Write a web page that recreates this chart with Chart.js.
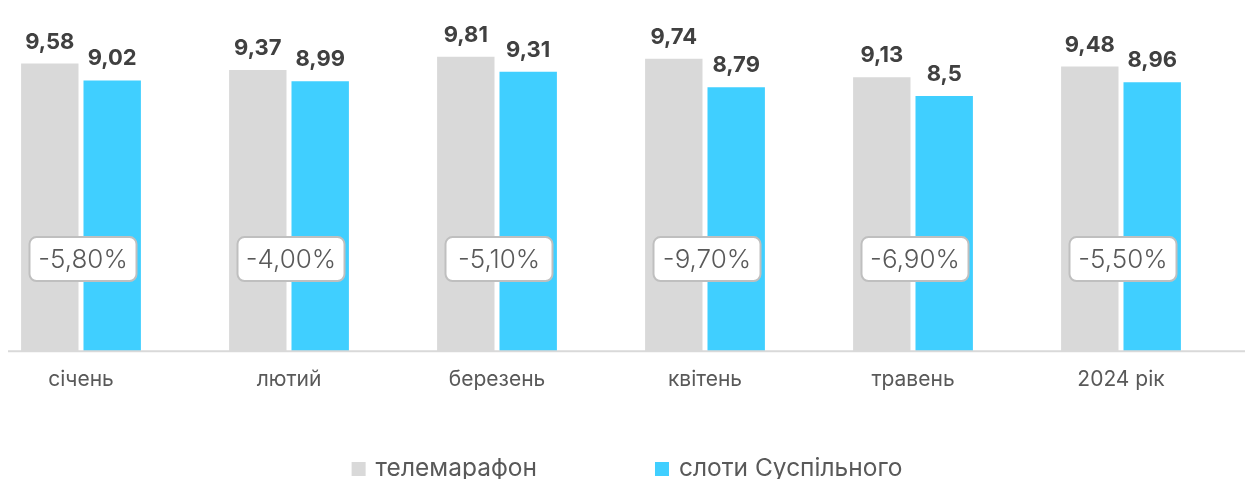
<!DOCTYPE html>
<html>
<head>
<meta charset="utf-8">
<script src="https://cdn.jsdelivr.net/npm/chart.js@4/dist/chart.umd.min.js"></script>
<style>
  html, body { margin: 0; padding: 0; background: #fff; overflow: hidden; }
  .wrap { position: absolute; left: -23px; top: 0; width: 1291px; height: 479px; }
</style>
</head>
<body>
<div class="wrap"><canvas id="chart" width="1291" height="479"></canvas></div>
<script>
// data
const categories = ["січень", "лютий", "березень", "квітень", "травень", "2024 рік"];
const telemarathon = [9.58, 9.37, 9.81, 9.74, 9.13, 9.48];
const slots = [9.02, 8.99, 9.31, 8.79, 8.5, 8.96];
const changeLabels = ["-5,80%", "-4,00%", "-5,10%", "-9,70%", "-6,90%", "-5,50%"];
const seriesNames = ["телемарафон", "слоти Суспільного"];

const grey = "#d9d9d9";
const blue = "#40cfff";
const textGrey = "#595959";
const shiftX = 23; // canvas sits 23px left of the page

Chart.defaults.font.family = "Inter, sans-serif";

// baseline, value labels and the change boxes
const decorPlugin = {
  id: "decor",
  afterDatasetsDraw(chart) {
    const ctx = chart.ctx;
    const x = chart.scales.x;
    const y = chart.scales.y;
    ctx.save();
    // axis line
    let y0 = y.getPixelForValue(0);
    ctx.strokeStyle = grey;
    ctx.lineWidth = 2;
    ctx.beginPath();
    ctx.moveTo(8 + shiftX, y0);
    ctx.lineTo(chart.width, y0);
    ctx.stroke();

    // values on top of bars
    ctx.font = "bold 22px Inter, sans-serif";
    ctx.fillStyle = "#404040";
    ctx.textAlign = "center";
    ctx.textBaseline = "alphabetic";
    chart.data.datasets.forEach((ds, di) => {
      chart.getDatasetMeta(di).data.forEach((bar, i) => {
        let txt = String(ds.data[i]).replace(".", ",");
        ctx.fillText(txt, bar.x, bar.y - 15);
      });
    });

    // change boxes
    ctx.font = "300 26px Inter, sans-serif";
    ctx.textBaseline = "middle";
    changeLabels.forEach((lab, i) => {
      let cx = x.getPixelForValue(i) + 2;
      let cy = y.getPixelForValue(3.07);
      let w = 107, h = 44;
      ctx.beginPath();
      ctx.roundRect(cx - w / 2, cy - h / 2, w, h, 7);
      ctx.fillStyle = "#ffffff";
      ctx.fill();
      ctx.strokeStyle = "#bfbfbf";
      ctx.lineWidth = 2;
      ctx.stroke();
      ctx.fillStyle = textGrey;
      ctx.fillText(lab, cx, cy + 1);
    });
    ctx.restore();
  },
  afterDraw(chart) {
    // legend at the bottom
    const ctx = chart.ctx;
    ctx.save();
    ctx.font = "24.5px Inter, sans-serif";
    ctx.textBaseline = "middle";
    ctx.textAlign = "left";
    const box = 14, gap = 10, spacing = 118;
    let widths = chart.data.datasets.map(d => ctx.measureText(d.label).width);
    let total = widths.reduce((a, b) => a + b, 0) + 2 * (box + gap) + spacing;
    let lx = 627 + shiftX - total / 2;
    let ly = 469;
    chart.data.datasets.forEach((d, i) => {
      ctx.fillStyle = d.backgroundColor;
      ctx.fillRect(lx, ly - box / 2, box, box);
      ctx.fillStyle = textGrey;
      ctx.fillText(d.label, lx + box + gap, ly);
      lx += box + gap + widths[i] + spacing;
    });
    ctx.restore();
  }
};

new Chart(document.getElementById("chart"), {
  type: "bar",
  data: {
    labels: categories,
    datasets: [
      { label: seriesNames[0], data: telemarathon, backgroundColor: grey },
      { label: seriesNames[1], data: slots, backgroundColor: blue }
    ]
  },
  options: {
    responsive: false,
    animation: false,
    devicePixelRatio: 1,
    categoryPercentage: 0.6,
    barPercentage: 0.92,
    layout: { padding: { left: 0, right: 43, top: 51, bottom: 79.5 } },
    plugins: {
      legend: { display: false },
      tooltip: { enabled: false }
    },
    scales: {
      x: {
        grid: { display: false },
        border: { display: false },
        ticks: { color: textGrey, font: { size: 21 }, padding: 7.5 }
      },
      y: { display: false, min: 0, max: 10 }
    }
  },
  plugins: [decorPlugin]
});
</script>
</body>
</html>
